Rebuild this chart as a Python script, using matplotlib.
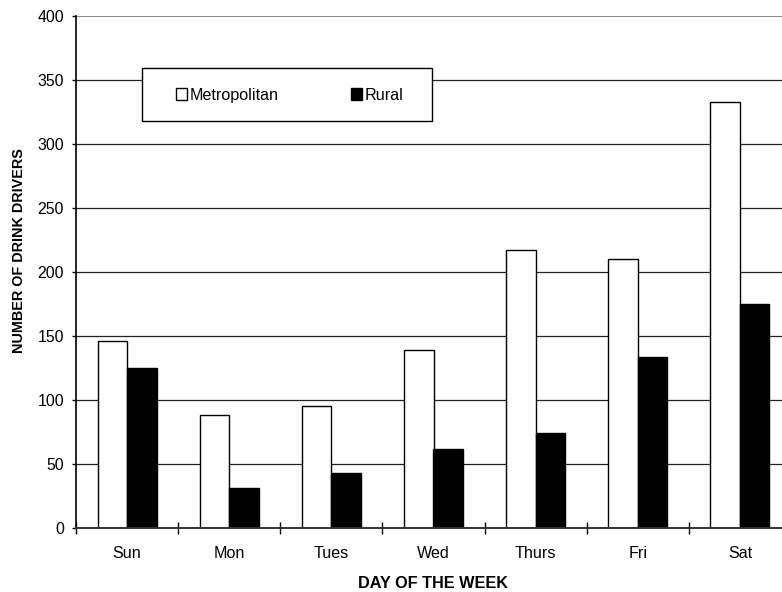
import matplotlib
matplotlib.use("Agg")
import matplotlib.pyplot as plt
from matplotlib.patches import Rectangle
import numpy as np

plt.rcParams['font.family'] = ['Liberation Sans', 'DejaVu Sans']

days = ["Sun", "Mon", "Tues", "Wed", "Thurs", "Fri", "Sat"]
metropolitan = [146, 88, 95, 139, 217, 210, 333]
rural = [125, 31, 43, 61, 74, 133, 175]
yticks = [0, 50, 100, 150, 200, 250, 300, 350, 400]

W, H = 782, 592
fig = plt.figure(figsize=(W / 100, H / 100), dpi=100)
left, right, top, bottom = 76, 791, 16, 527.5
ax = fig.add_axes([left / W, 1 - bottom / H, (right - left) / W, (bottom - top) / H])

x = np.arange(len(days))
bw = 0.289
ax.bar(x - bw / 2, metropolitan, width=bw, color="white", edgecolor="black",
       linewidth=1.0, label="Metropolitan", zorder=3)
ax.bar(x + bw / 2, rural, width=bw, color="black", edgecolor="black",
       linewidth=1.0, label="Rural", zorder=3)

ax.set_xlim(-0.5, len(days) - 0.5)
ax.set_ylim(0, 400)
ax.set_yticks(yticks)
ax.set_yticklabels([str(v) for v in yticks], fontsize=11.4)
for v in yticks[1:]:
    ax.axhline(v, color="#808080" if v == 400 else "#222222",
               linewidth=1.3 if v == 400 else 0.9, zorder=1)

ax.set_xticks(x)
ax.set_xticklabels(days, fontsize=11.6)
ax.set_xticks(np.arange(len(days) + 1) - 0.5, minor=True)
ax.tick_params(axis="x", which="major", length=0, pad=13.5)
ax.tick_params(axis="x", which="minor", direction="inout", length=8, width=1.0)
ax.tick_params(axis="y", direction="out", length=3.2, width=1.0, pad=5.5)

for s in ["top", "right"]:
    ax.spines[s].set_visible(False)
ax.spines["left"].set_linewidth(1.2)
ax.spines["bottom"].set_linewidth(1.4)
ax.spines["bottom"].set_color("#333333")
ax.spines["left"].set_zorder(4)
ax.spines["bottom"].set_zorder(4)

ax.set_xlabel("DAY OF THE WEEK", fontsize=11.7, fontweight="bold")
ax.xaxis.set_label_coords(0.5, -(576 - bottom) / (bottom - top))
ax.set_ylabel("NUMBER OF DRINK DRIVERS", fontsize=10.4, fontweight="bold", va="center")
ax.yaxis.set_label_coords((18.7 - left) / (right - left), (bottom - 250.5) / (bottom - top))

# legend box
bx0, by0, bx1, by1 = 141.7, 68.3, 431.7, 121
frame = Rectangle((bx0 / W, 1 - by1 / H), (bx1 - bx0) / W, (by1 - by0) / H,
                  transform=fig.transFigure, facecolor="white", edgecolor="black",
                  linewidth=1.0, zorder=5)
fig.patches.append(frame)
leg = fig.legend(loc="center left", bbox_to_anchor=(175.5 / W, 1 - 95 / H),
                 ncol=2, frameon=False, fontsize=11.6, handlelength=0.7,
                 handleheight=0.7, handletextpad=0.15, columnspacing=4.5,
                 borderpad=0, borderaxespad=0)
leg.set_zorder(6)

fig.savefig("out.png", dpi=100)
